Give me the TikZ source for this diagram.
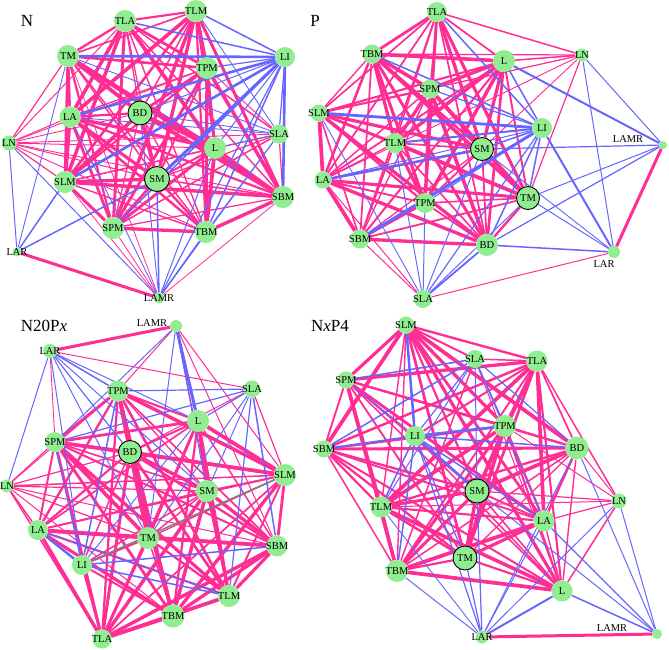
\documentclass[tikz,border=0pt]{standalone}
\usepackage{fontspec}
\setmainfont{Liberation Serif}
\usetikzlibrary{backgrounds}

\definecolor{linkpink}{RGB}{255,46,148}
\definecolor{linkblue}{RGB}{102,102,255}
\definecolor{linkgray}{RGB}{128,128,128}
\definecolor{regiongreen}{RGB}{144,238,144}

% text that does not widen its circle
\newcommand{\rname}[1]{\makebox[0pt]{#1}}
% every pair of a panel's core regions, pink
\newcommand{\corelinks}[2]{%
  \foreach \a [count=\i] in {#2}
    \foreach \b [count=\j] in {#2}
      {\ifnum\j>\i
         \pgfmathsetmacro\w{1.2+2.6*rnd}
         \draw[pinklink,line width=\w pt] (#1-\a) -- (#1-\b);
       \fi}}
% single links: from/to/width
\newcommand{\linkset}[3]{%
  \foreach \a/\b/\w in {#3}
    \draw[#2,line width=\w pt] (#1-\a) -- (#1-\b);}

\tikzset{
  region/.style={circle,fill=regiongreen,inner sep=0pt,minimum size=#1pt,
    font=\fontsize{10.5}{10.5}\selectfont},
  region/.default=21,
  hub/.style={region=#1,draw=black,line width=0.9pt},
  hub/.default=24,
  regiontext/.style={inner sep=0pt,font=\fontsize{10.5}{10.5}\selectfont},
  paneltitle/.style={inner sep=0pt,font=\fontsize{17}{17}\selectfont},
  pinklink/.style={draw=linkpink},
  bluelink/.style={draw=linkblue},
  graylink/.style={draw=linkgray},
}

\begin{document}
\begin{tikzpicture}[x=1pt,y=-1pt]
\useasboundingbox (0,0) rectangle (669,649);
\pgfmathsetseed{12}

%% N
\node[paneltitle] (N-title) at (27,21) {N};
\node[region=22] (N-TLA) at (125,21) {\rname{TLA}};
\node[region=22] (N-TLM) at (196,11) {\rname{TLM}};
\node[region=22] (N-TM) at (68,56) {\rname{TM}};
\node[region=22] (N-TPM) at (207,68) {\rname{TPM}};
\node[region=20] (N-LI) at (285,57) {\rname{LI}};
\node[region=21] (N-LA) at (70,117) {\rname{LA}};
\node[hub=24] (N-BD) at (140,113) {\rname{BD}};
\node[region=15] (N-LN) at (9,143) {\rname{LN}};
\node[region=19] (N-SLA) at (279,134) {\rname{SLA}};
\node[region=22] (N-L) at (215,148) {\rname{L}};
\node[region=22] (N-SLM) at (65,182) {\rname{SLM}};
\node[hub=25] (N-SM) at (157,179) {\rname{SM}};
\node[region=22] (N-SBM) at (283,197) {\rname{SBM}};
\node[region=22] (N-SPM) at (113,228) {\rname{SPM}};
\node[region=22] (N-TBM) at (206,232) {\rname{TBM}};
\node[region=9] (N-LAR) at (17,252) {\rname{LAR}};
\node[region=11] (N-LAMR) at (159,298) {\rname{LAMR}};
\begin{pgfonlayer}{background}
\corelinks{N}{TLA,TLM,TM,TPM,LA,BD,L,SLM,SM,SBM,SPM,TBM}
\linkset{N}{pinklink}{SLA/TLA/1.5, SLA/SLM/1.2, SLA/SPM/1.5, SLA/SM/1.2, SLA/SBM/1.2, SLA/TPM/1, SLA/LN/0.9,
  LN/TM/1.2, LN/TLA/1, LN/LA/1, LN/BD/0.9, LN/L/1, LN/SM/1, LN/SBM/0.9, LN/SLM/1.2, LN/TPM/0.9, LN/TBM/0.9,
  LAR/LAMR/3, LAMR/SLM/0.8, LAMR/SPM/0.8, LAMR/SBM/0.8, LAMR/TM/0.8}
\linkset{N}{bluelink}{SLA/LA/0.9, SLA/BD/0.9, SLA/TM/0.9, SLA/TLM/0.9, SLA/TBM/1, SLA/L/0.9, SLA/LI/1.2, SLA/LAMR/0.8,
  LI/TM/2.6, LI/LA/2.6, LI/SLM/2.6, LI/SM/3, LI/SBM/2.6, LI/TLA/1.5, LI/TLM/1.5, LI/SPM/1.5, LI/TBM/1.5,
  LI/TPM/1.2, LI/BD/1, LI/L/1, LI/LAMR/1.2,
  LN/LAR/1, LN/LAMR/1, LAR/TM/0.9, LAR/SLM/1.5, LAR/SM/1.5,
  LAMR/LA/0.9, LAMR/BD/0.9, LAMR/L/1, LAMR/SM/1.5, LAMR/TBM/1.5}
\end{pgfonlayer}

%% P
\node[paneltitle] (P-title) at (315,21) {P};
\node[region=20] (P-TLA) at (437,12) {\rname{TLA}};
\node[region=19] (P-TBM) at (372,54) {\rname{TBM}};
\node[region=22] (P-L) at (504,61) {\rname{L}};
\node[region=13] (P-LN) at (582,55) {\rname{LN}};
\node[region=19] (P-SPM) at (430,89) {\rname{SPM}};
\node[region=17] (P-SLM) at (319,113) {\rname{SLM}};
\node[region=20] (P-LI) at (542,128) {\rname{LI}};
\node[region=20] (P-TLM) at (395,143) {\rname{TLM}};
\node[hub=23] (P-SM) at (482,149) {\rname{SM}};
\node[region=17] (P-LA) at (323,180) {\rname{LA}};
\node[hub=23] (P-TM) at (528,198) {\rname{TM}};
\node[region=20] (P-TPM) at (425,203) {\rname{TPM}};
\node[region=19] (P-SBM) at (360,239) {\rname{SBM}};
\node[region=22] (P-BD) at (487,245) {\rname{BD}};
\node[region=12] (P-LAR) at (614,252) {};
\node[regiontext] (P-LARtext) at (604,264) {LAR};
\node[region=8] (P-LAMR) at (663,145) {};
\node[regiontext] (P-LAMRtext) at (628,139) {LAMR};
\node[region=18] (P-SLA) at (423,299) {\rname{SLA}};
\begin{pgfonlayer}{background}
\corelinks{P}{TLA,TBM,L,SPM,SLM,TLM,SM,LA,TM,TPM,SBM,BD}
\linkset{P}{pinklink}{LN/TLA/1.5, LN/TBM/1.2, LN/L/1.5, LN/TM/1.2, LN/SPM/0.9, LN/SLM/0.9, LN/SM/0.9, LN/LA/0.9,
  LAMR/LAR/3, LAR/SLA/1, SLA/SBM/1, SLA/LA/1}
\linkset{P}{bluelink}{LA/SM/2.4, LI/SLM/2.8, LI/SBM/3, LI/TLM/2, LI/SM/1.5, LI/TBM/1.5, LI/TLA/1.5, LI/L/1.5,
  LI/TM/1.5, LI/BD/1.5, LI/SPM/1.2, LI/LAR/2, LI/TPM/1, LI/LA/1, LN/LAMR/1, LN/LAR/1,
  LAMR/L/2, LAMR/SM/1.2, LAMR/TM/1, LAMR/BD/1.2, LAR/TM/1, LAR/SM/0.9, LAR/BD/1.5,
  SLA/SLM/0.9, SLA/TLM/1, SLA/TPM/1, SLA/SM/1, SLA/TM/1, SLA/BD/1.8, SLA/LI/1.2}
\end{pgfonlayer}

%% N20Px
\node[paneltitle] (NTP-title) at (44,326) {N20P\textit{x}};
\node[region=12] (NTP-LAMR) at (176,326) {};
\node[regiontext] (NTP-LAMRtext) at (152,323) {LAMR};
\node[region=14] (NTP-LAR) at (50,351) {\rname{LAR}};
\node[region=21] (NTP-TPM) at (118,391) {\rname{TPM}};
\node[region=17] (NTP-SLA) at (252,389) {\rname{SLA}};
\node[region=22] (NTP-L) at (198,421) {\rname{L}};
\node[region=20] (NTP-SPM) at (55,442) {\rname{SPM}};
\node[hub=23] (NTP-BD) at (130,452) {\rname{BD}};
\node[region=22] (NTP-SLM) at (285,475) {\rname{SLM}};
\node[region=13] (NTP-LN) at (7,486) {\rname{LN}};
\node[region=22] (NTP-SM) at (207,491) {\rname{SM}};
\node[region=20] (NTP-LA) at (38,530) {\rname{LA}};
\node[region=22] (NTP-TM) at (148,538) {\rname{TM}};
\node[region=21] (NTP-SBM) at (277,546) {\rname{SBM}};
\node[region=20] (NTP-LI) at (82,565) {\rname{LI}};
\node[region=22] (NTP-TLM) at (229,596) {\rname{TLM}};
\node[region=23] (NTP-TBM) at (173,616) {\rname{TBM}};
\node[region=19] (NTP-TLA) at (102,639) {\rname{TLA}};
\begin{pgfonlayer}{background}
\corelinks{NTP}{TPM,L,SPM,BD,SLM,SM,LA,TM,SBM,TLM,TBM,TLA}
\linkset{NTP}{pinklink}{LN/SPM/1.2, LN/LA/1.5, LN/TLA/1.5, LN/BD/1.2, LN/SM/1.2, LN/SLM/1.5, LN/TM/1.2,
  LN/TBM/1, LN/TPM/1, LN/SBM/1, LI/TLA/2, LI/TBM/2, LI/SM/1.5, LI/BD/1.5, LI/TM/2,
  SLA/SLM/1.2, SLA/LAR/1, SLA/BD/1, LAR/LAMR/3, LAR/SPM/0.9,
  LAMR/SLM/1, LAMR/SBM/1, LAMR/TPM/1, LAMR/TLM/0.9}
\linkset{NTP}{bluelink}{LN/LAR/1, LI/TPM/1.5, LI/LAR/1, LI/SPM/1.2, LI/LA/2.5, LI/SBM/1.5, LI/TLM/1.5, LI/L/1,
  SLA/TPM/1.2, SLA/L/1.2, SLA/SM/1, SLA/SBM/1.5, SLA/TLM/1.2, SLA/SPM/1.2, SLA/TM/1,
  LAR/TPM/1.5, LAR/BD/1.2, LAR/TM/1, LAR/SM/1, LAR/L/1,
  LAMR/L/3, LAMR/SPM/1, LAMR/SM/1, LAMR/TM/1, LA/TLM/1.2}
\linkset{NTP}{graylink}{LI/SLM/1.5}
\end{pgfonlayer}

%% NxP4
\node[paneltitle] (NXP-title) at (330,326) {N\textit{x}P4};
\node[region=17] (NXP-SLM) at (406,325) {\rname{SLM}};
\node[region=18] (NXP-SLA) at (475,359) {\rname{SLA}};
\node[region=21] (NXP-TLA) at (537,361) {\rname{TLA}};
\node[region=17] (NXP-SPM) at (346,380) {\rname{SPM}};
\node[region=22] (NXP-TPM) at (505,426) {\rname{TPM}};
\node[region=20] (NXP-LI) at (415,436) {\rname{LI}};
\node[region=17] (NXP-SBM) at (324,449) {\rname{SBM}};
\node[region=23] (NXP-BD) at (577,448) {\rname{BD}};
\node[hub=24] (NXP-SM) at (477,491) {\rname{SM}};
\node[region=15] (NXP-LN) at (619,501) {\rname{LN}};
\node[region=21] (NXP-TLM) at (381,507) {\rname{TLM}};
\node[region=21] (NXP-LA) at (544,521) {\rname{LA}};
\node[hub=24] (NXP-TM) at (465,558) {\rname{TM}};
\node[region=22] (NXP-TBM) at (397,571) {\rname{TBM}};
\node[region=21] (NXP-L) at (562,591) {\rname{L}};
\node[region=13] (NXP-LAR) at (482,637) {\rname{LAR}};
\node[region=10] (NXP-LAMR) at (657,634) {};
\node[regiontext] (NXP-LAMRtext) at (612,628) {LAMR};
\begin{pgfonlayer}{background}
\corelinks{NXP}{SLM,TLA,SPM,TPM,SBM,BD,SM,TLM,LA,TM,TBM,L}
\linkset{NXP}{pinklink}{SLA/SLM/2, SLA/TLA/1.5, SLA/TBM/1.5, SLA/L/1, LI/TLA/2, LI/L/1.5,
  LN/TLA/1.5, LN/BD/1, LN/SM/1.2, LN/TLM/1, LN/LA/1.2, LN/L/1.5, LN/TPM/1, LAR/LAMR/3}
\linkset{NXP}{bluelink}{SLA/SPM/1.5, SLA/SBM/1.5, SLA/LI/1.2, SLA/TPM/1.2, SLA/BD/1.2, SLA/TLM/1, SLA/SM/1, SLA/LA/1,
  LI/SLM/2.5, LI/SBM/1.8, LI/TLM/1.5, LI/TBM/1.5, LI/TPM/2.5, LI/BD/1.5, LI/SM/2.5, LI/LA/1.5,
  LI/TM/1.2, LI/LAR/1.2, LI/SPM/1, LN/LAR/1, LN/LAMR/1,
  LAR/TLM/0.9, LAR/TBM/1, LAR/SM/1.2, LAR/TM/1.2, LAR/LA/1, LAR/L/2, LAR/BD/1,
  LAMR/L/1.5, LAMR/LA/1.2, LAMR/SM/1, LAMR/BD/1}
\end{pgfonlayer}
\end{tikzpicture}
\end{document}
